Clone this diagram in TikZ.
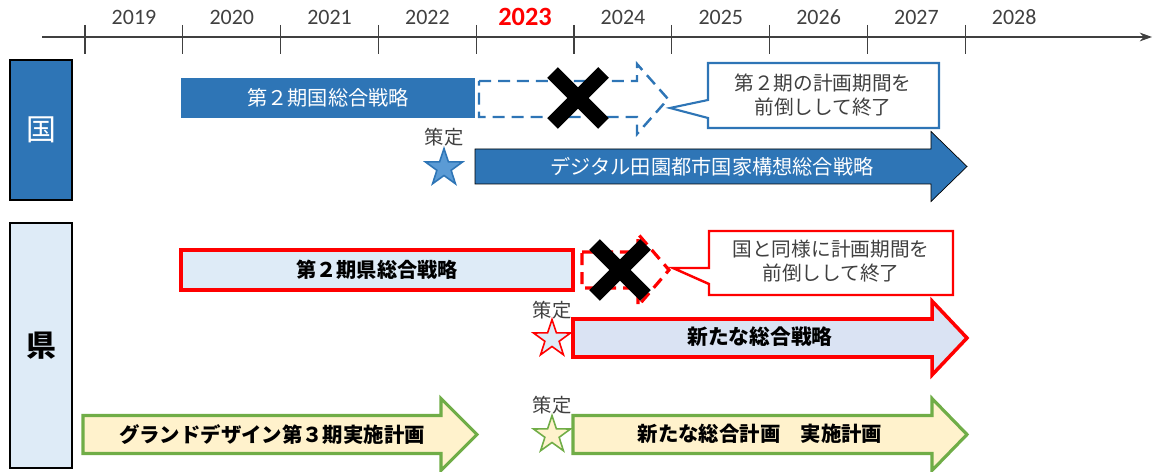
\documentclass[tikz,border=0pt]{standalone}
\usepackage{fontspec}
\setmainfont{Noto Sans CJK JP}
\newfontfamily\yearfont{Carlito}
\usetikzlibrary{arrows.meta, shapes.geometric, shapes.misc}
\definecolor{kunicolor}{RGB}{46,117,182}
\definecolor{starcolor}{RGB}{91,155,213}
\definecolor{kencolor}{RGB}{222,235,247}
\definecolor{newcolor}{RGB}{218,227,243}
\definecolor{gdcolor}{RGB}{255,242,204}
\definecolor{greencolor}{RGB}{112,173,71}
\definecolor{inkcolor}{RGB}{64,64,64}
% block arrow: [style]{left}{head}{tip}{mid y}{half body}{half head}
\newcommand{\planarrow}[7][]{%
  \draw[#1] (#2,{#5-#6}) -- (#3,{#5-#6}) -- (#3,{#5-#7}) -- (#4,#5)
    -- (#3,{#5+#7}) -- (#3,{#5+#6}) -- (#2,{#5+#6}) -- cycle;}

\begin{document}
\begin{tikzpicture}[x=0.02cm, y=-0.02cm,
    yearlabel/.style={font=\yearfont\fontsize{12.5}{14}\selectfont, text=inkcolor},
    planlabel/.style={font=\fontsize{11.5}{13}\selectfont, inner sep=0pt},
    notelabel/.style={font=\fontsize{11.2}{13.6}\selectfont, align=center, inner sep=0pt, text=inkcolor},
    decided/.style={font=\fontsize{11}{12}\selectfont, inner sep=0pt, text=inkcolor},
    plannedstar/.style={star, star points=5, star point ratio=2.6, minimum size=0.78cm, inner sep=0pt, line width=0.9pt},
    stopmark/.style={cross out, draw=black, line width=0.3cm, minimum size=0.72cm, inner sep=0pt},
    sidebox/.style={draw=black, line width=1.2pt, minimum width=1.24cm, minimum height=#1, inner sep=0pt}]
  \useasboundingbox (0,0) rectangle (1153,472);

  % timeline
  \coordinate (axL) at (42,37);
  \coordinate (axR) at (1152,37);
  \draw[inkcolor, line width=0.6pt, -{Stealth[length=7pt, width=5pt]}] (axL) -- (axR);
  \foreach \i in {0,...,9}
    \draw[inkcolor, line width=0.6pt] ({85+97.8*\i},25) -- ({85+97.8*\i},54);
  \foreach \yr [count=\i from 0] in {2019,2020,2021,2022}
    \node[yearlabel] (y\yr) at ({134+97.8*\i},17) {\yr};
  \node[yearlabel, text=red, font=\yearfont\bfseries\fontsize{15}{16}\selectfont] (y2023) at (525,17) {2023};
  \foreach \yr [count=\i from 5] in {2024,2025,2026,2027,2028}
    \node[yearlabel] (y\yr) at ({134+97.8*\i},17) {\yr};

  % side labels
  \node[sidebox=2.8cm, fill=kunicolor, text=white, font=\fontsize{17}{18}\selectfont] (kuni) at (41,130) {国};
  \node[sidebox=4.9cm, fill=kencolor, font=\bfseries\fontsize{17}{18}\selectfont] (ken) at (41,345.5) {県};

  % national plans
  \node[fill=kunicolor, minimum width=5.88cm, minimum height=0.8cm, inner sep=0pt] (kuni2box) at (328,98) {};
  \node[planlabel, text=white] (kuni2) at (kuni2box) {第２期国総合戦略};
  \planarrow[draw=kunicolor, line width=1.4pt, dash pattern=on 0.24cm off 0.14cm]{479}{637}{668}{99}{18}{35}
  \node[stopmark] (stop1) at (578,98) {};
  \draw[draw=kunicolor, line width=1.2pt, fill=white] (708,63) -- (939,63) -- (939,128) -- (708,128)
    -- (708,118) -- (670,108) -- (708,100) -- cycle;
  \node[notelabel] (note1) at (823,95) {第２期の計画期間を\\前倒しして終了};
  \node[decided] (dec1) at (444,137) {策定};
  \node[plannedstar, draw=kunicolor, fill=starcolor] (star1) at (444,168) {};
  \planarrow[fill=kunicolor]{475}{931}{967}{166.5}{17.5}{35}
  \node[planlabel, text=white] (digital) at (712,167) {デジタル田園都市国家構想総合戦略};

  % prefectural plans
  \node[draw=red, line width=2pt, fill=kencolor, minimum width=7.84cm, minimum height=0.8cm, inner sep=0pt] (ken2box) at (377,270) {};
  \node[planlabel, font=\bfseries\fontsize{11.5}{13}\selectfont] (ken2) at (ken2box) {第２期県総合戦略};
  \planarrow[draw=red, line width=1.8pt, dash pattern=on 0.24cm off 0.14cm]{582}{638}{669}{270}{18}{36}
  \node[stopmark] (stop2) at (620,270) {};
  \draw[draw=red, line width=1.4pt, fill=white] (709,231) -- (953,231) -- (953,295) -- (709,295)
    -- (709,284) -- (673,268) -- (709,268) -- cycle;
  \node[notelabel] (note2) at (831,261) {国と同様に計画期間を\\前倒しして終了};
  \node[decided] (dec2) at (552,310) {策定};
  \node[plannedstar, draw=red, fill=kencolor] (star2) at (552,339) {};
  \planarrow[draw=red, line width=2pt, fill=newcolor]{573}{932}{967}{338}{19}{37}
  \node[planlabel, font=\bfseries\fontsize{11.8}{13}\selectfont] (newstrat) at (760,337) {新たな総合戦略};

  \planarrow[draw=greencolor, line width=1.8pt, fill=gdcolor]{83}{441}{477}{434.5}{19}{36}
  \node[planlabel, font=\bfseries\fontsize{11.6}{13}\selectfont] (gd3) at (272,435) {グランドデザイン第３期実施計画};
  \node[decided] (dec3) at (552,405) {策定};
  \node[plannedstar, draw=greencolor, fill=gdcolor] (star3) at (552,435) {};
  \planarrow[draw=greencolor, line width=1.8pt, fill=gdcolor]{573}{932}{967}{434.5}{19}{36}
  \node[planlabel, font=\bfseries\fontsize{11.6}{13}\selectfont] (newplan) at (760,434) {新たな総合計画　実施計画};
\end{tikzpicture}
\end{document}
